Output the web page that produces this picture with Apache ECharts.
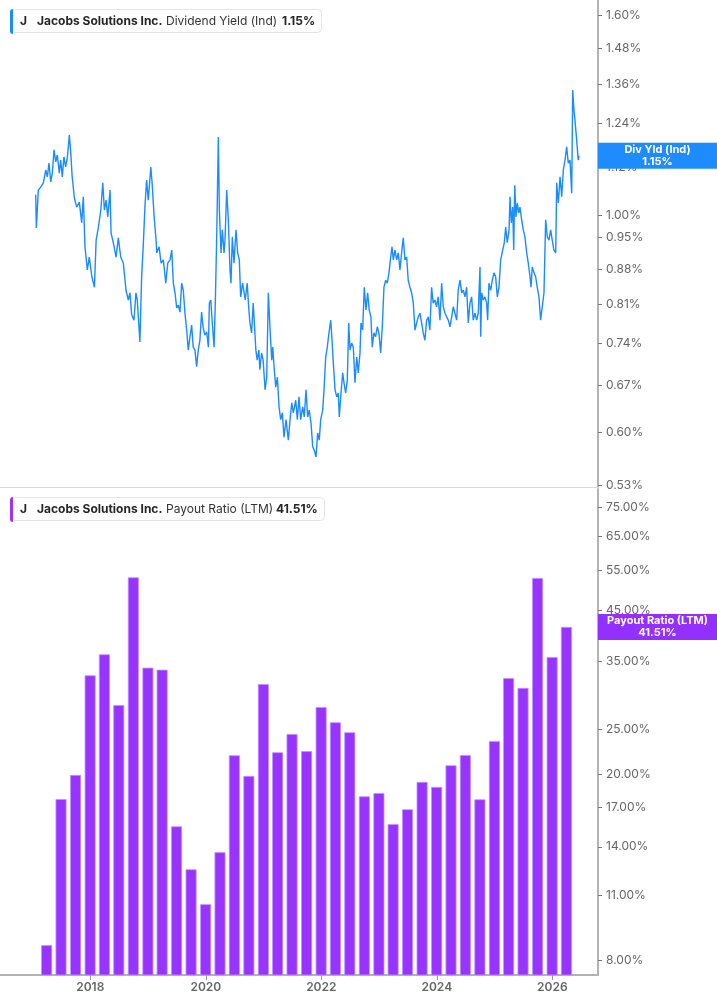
<!DOCTYPE html>
<html><head><meta charset="utf-8">
<script src="https://cdn.jsdelivr.net/npm/echarts/dist/echarts.min.js"></script>
<style>html,body{margin:0;padding:0;background:#fff}#c{width:717px;height:1005px}</style>
</head><body><div id="c"></div>
<script>
// ---- DATA ----
const company = 'Jacobs Solutions Inc.';
const ticker = 'J';
const yieldName = 'Dividend Yield (Ind)';
const yieldShort = 'Div Yld (Ind)';
const payoutName = 'Payout Ratio (LTM)';

// dates as decimal years
const yieldDates = [2017.055,2017.066,2017.100,2017.141,2017.187,2017.229,2017.256,2017.285,2017.315,2017.342,2017.372,2017.401,2017.429,2017.463,2017.487,2017.515,2017.544,2017.573,2017.602,2017.637,2017.662,2017.684,2017.724,2017.765,2017.810,2017.851,2017.879,2017.908,2017.948,2017.982,
2018.027,2018.072,2018.101,2018.140,2018.182,2018.216,2018.244,2018.273,2018.303,2018.342,2018.359,2018.399,2018.446,2018.485,2018.527,2018.572,2018.618,2018.658,2018.687,2018.716,2018.756,2018.790,2018.813,2018.859,2018.889,2018.916,2018.946,2018.975,2019.004,
2019.048,2019.070,2019.105,2019.139,2019.151,2019.191,2019.226,2019.265,2019.307,2019.341,2019.381,2019.410,2019.438,2019.467,2019.496,2019.524,2019.553,2019.582,2019.610,2019.639,2019.669,2019.696,2019.726,2019.755,2019.782,2019.812,2019.841,2019.869,2019.898,2019.927,2019.955,2019.984,
2020.015,2020.045,2020.062,2020.086,2020.109,2020.143,2020.166,2020.190,2020.217,2020.235,2020.264,2020.286,2020.316,2020.333,2020.362,2020.390,2020.419,2020.436,2020.459,2020.488,2020.523,2020.552,2020.580,2020.604,2020.638,2020.661,2020.683,2020.717,2020.742,2020.764,2020.793,2020.821,2020.850,2020.867,2020.890,2020.919,2020.936,2020.966,2020.993,
2021.026,2021.055,2021.083,2021.113,2021.142,2021.159,2021.182,2021.211,2021.239,2021.268,2021.297,2021.325,2021.354,2021.389,2021.429,2021.459,2021.488,2021.516,2021.557,2021.585,2021.614,2021.643,2021.678,2021.705,2021.735,2021.764,2021.791,2021.822,2021.851,2021.879,2021.908,2021.937,2021.965,2021.989,
2022.024,2022.047,2022.076,2022.104,2022.133,2022.163,2022.186,2022.208,2022.238,2022.267,2022.294,2022.312,2022.341,2022.370,2022.393,2022.422,2022.450,2022.475,2022.497,2022.526,2022.554,2022.583,2022.613,2022.640,2022.670,2022.687,2022.716,2022.744,2022.773,2022.802,2022.830,2022.859,2022.882,2022.911,2022.940,2022.969,2022.998,
2023.028,2023.056,2023.085,2023.115,2023.142,2023.172,2023.201,2023.224,2023.247,2023.276,2023.305,2023.333,2023.362,2023.392,2023.419,2023.448,2023.478,2023.505,2023.535,2023.564,2023.593,2023.622,2023.651,2023.679,2023.708,2023.737,2023.765,2023.794,2023.824,2023.851,2023.880,2023.910,2023.937,2023.967,2023.996,
2024.024,2024.055,2024.084,2024.112,2024.142,2024.171,2024.199,2024.228,2024.258,2024.285,2024.314,2024.344,2024.371,2024.402,2024.431,2024.459,2024.488,2024.517,2024.545,2024.574,2024.603,2024.631,2024.660,2024.691,2024.718,2024.748,2024.760,2024.777,2024.804,2024.834,2024.863,2024.880,2024.903,2024.933,2024.961,2024.990,
2025.019,2025.048,2025.077,2025.106,2025.141,2025.168,2025.193,2025.220,2025.251,2025.268,2025.290,2025.314,2025.332,2025.349,2025.371,2025.394,2025.418,2025.440,2025.469,2025.497,2025.526,2025.557,2025.584,2025.614,2025.631,2025.653,2025.683,2025.712,2025.739,2025.769,2025.798,2025.826,2025.856,2025.885,2025.913,2025.942,2025.971,2025.999,
2026.028,2026.059,2026.076,2026.104,2026.134,2026.163,2026.191,2026.220,2026.249,2026.277,2026.306,2026.336,2026.353,2026.375,2026.392,2026.422,2026.449,2026.461];

// dividend yield, %
const yieldValues = [1.049,0.970,1.061,1.068,1.079,1.112,1.094,1.130,1.081,1.104,1.166,1.133,1.152,1.104,1.138,1.094,1.147,1.120,1.144,1.207,1.157,1.099,1.041,1.019,1.031,0.982,1.044,0.928,0.879,0.906,
0.865,0.844,0.943,0.972,1.012,1.079,1.012,1.036,0.996,1.061,0.959,0.937,0.906,0.948,0.906,0.893,0.838,0.819,0.833,0.791,0.781,0.833,0.819,0.742,0.865,0.928,1.019,1.086,1.036,
1.120,1.079,0.996,0.943,0.915,0.928,0.893,0.900,0.852,0.893,0.900,0.921,0.852,0.833,0.804,0.809,0.796,0.852,0.838,0.794,0.763,0.728,0.751,0.772,0.733,0.728,0.700,0.728,0.745,0.796,0.767,0.754,
0.760,0.733,0.813,0.819,0.781,0.733,0.819,0.959,1.202,1.012,0.915,0.966,0.915,0.943,1.061,0.989,0.879,0.852,0.950,0.893,0.966,0.915,0.900,0.825,0.852,0.855,0.819,0.852,0.806,0.776,0.758,0.813,0.758,0.728,0.711,0.728,0.695,0.723,0.711,
0.663,0.683,0.833,0.763,0.711,0.733,0.700,0.667,0.683,0.637,0.618,0.628,0.593,0.618,0.589,0.618,0.643,0.628,0.647,0.618,0.652,0.618,0.637,0.622,0.663,0.622,0.632,0.613,0.580,0.575,0.566,0.599,0.589,0.618,
0.632,0.663,0.716,0.733,0.758,0.781,0.745,0.706,0.663,0.652,0.658,0.622,0.658,0.690,0.674,0.658,0.678,0.776,0.728,0.740,0.733,0.674,0.716,0.690,0.723,0.776,0.763,0.844,0.800,0.833,0.800,0.787,0.733,0.758,0.751,0.769,0.758,
0.723,0.769,0.844,0.858,0.852,0.873,0.906,0.928,0.900,0.921,0.900,0.915,0.879,0.917,0.948,0.900,0.906,0.858,0.844,0.833,0.813,0.763,0.776,0.787,0.794,0.776,0.758,0.745,0.781,0.787,0.763,0.844,0.813,0.819,0.806,
0.825,0.781,0.852,0.806,0.794,0.787,0.781,0.769,0.787,0.806,0.804,0.781,0.838,0.858,0.833,0.838,0.825,0.844,0.776,0.813,0.825,0.781,0.794,0.781,0.794,0.885,0.751,0.833,0.819,0.825,0.813,0.781,0.852,0.838,0.858,0.873,
0.865,0.825,0.844,0.900,0.921,0.937,0.972,0.937,0.966,1.044,0.982,1.019,0.921,1.073,0.996,1.029,1.005,1.019,0.989,0.966,0.950,0.915,0.893,0.865,0.844,0.885,0.873,0.865,0.844,0.825,0.781,0.806,0.833,0.989,0.950,0.943,0.966,0.943,
0.921,0.915,1.079,1.029,1.094,1.044,1.112,1.138,1.174,1.130,1.138,1.053,1.342,1.280,1.251,1.193,1.138,1.150];

// payout ratio (LTM), quarterly, %
const payoutPeriods = ['2017-03-31','2017-06-30','2017-09-30','2017-12-31',
'2018-03-31','2018-06-30','2018-09-30','2018-12-31',
'2019-03-31','2019-06-30','2019-09-30','2019-12-31',
'2020-03-31','2020-06-30','2020-09-30','2020-12-31',
'2021-03-31','2021-06-30','2021-09-30','2021-12-31',
'2022-03-31','2022-06-30','2022-09-30','2022-12-31',
'2023-03-31','2023-06-30','2023-09-30','2023-12-31',
'2024-03-31','2024-06-30','2024-09-30','2024-12-31',
'2025-03-31','2025-06-30','2025-09-30','2025-12-31',
'2026-03-31'];
const payoutValues = [8.61,17.73,19.97,32.68,36.26,28.22,53.06,33.94,33.60,15.49,12.53,10.54,13.63,22.01,19.87,31.31,22.34,24.45,22.46,27.94,25.91,24.66,17.97,18.26,15.67,16.85,19.29,18.82,20.95,22.04,17.70,23.62,32.25,30.70,52.88,35.78,41.51];

const yieldTicks = [0.53,0.60,0.67,0.74,0.81,0.88,0.95,1.00,1.12,1.24,1.36,1.48,1.60];
const payoutTicks = [8,11,14,17,20,25,35,45,55,65,75];
const yearTicks = [2018,2020,2022,2024,2026];

const yieldLast = yieldValues[yieldValues.length - 1];
const payoutLast = payoutValues[payoutValues.length - 1];

// axis ranges
const X_MIN = 2016.4364, X_MAX = 2026.7913;
const Y1_MIN = 0.5275, Y1_MAX = 1.6587;
const Y2_MIN = 7.428, Y2_MAX = 82.1;

// ---- helpers ----
const ln = Math.log;
function toYear(s){
  const p = s.split('-').map(Number);
  const t = Date.UTC(p[0], p[1]-1, p[2]);
  const a = Date.UTC(p[0],0,1), b = Date.UTC(p[0]+1,0,1);
  return p[0] + (t-a)/(b-a);
}
const BLUE = '#1a8cff', PURPLE = '#9933ff';
const FONT = 'Inter';

function legendTitle(top, metric, value, mw, vw){
  return {
    left: 10, top: top,
    text: '{j|' + ticker + '}{c|' + company + '}{m|' + metric + '}{v|' + value + '}',
    padding: [5, 6, 5, 10],
    backgroundColor: '#fff', borderColor: '#e4e4e4', borderWidth: 1, borderRadius: 4,
    textStyle: {
      fontFamily: FONT, fontSize: 12, lineHeight: 14,
      rich: {
        j: {fontFamily: FONT, fontWeight: 700, fontSize: 12, color: '#262626', width: 17},
        c: {fontFamily: FONT, fontWeight: 700, fontSize: 12, color: '#262626', width: 129},
        m: {fontFamily: FONT, fontWeight: 400, fontSize: 12, color: '#333', width: mw},
        v: {fontFamily: FONT, fontWeight: 700, fontSize: 12, color: '#262626', width: vw}
      }
    }
  };
}

function yAxisCfg(grid, mn, mx, ticks, digits){
  const cv = ticks.map(ln);
  return {
    gridIndex: grid, type: 'value', position: 'right',
    min: ln(mn), max: ln(mx),
    axisLine: {show: true, onZero: false, lineStyle: {color: '#b3b3b3', width: 2}},
    axisTick: {show: true, customValues: cv, length: 4, lineStyle: {color: '#777', width: 1}},
    axisLabel: {show: true, customValues: cv, formatter: v => Math.exp(v).toFixed(2) + '%',
      color: '#666', fontSize: 12, fontFamily: FONT, margin: 8},
    splitLine: {show: false}
  };
}

const chart = echarts.init(document.getElementById('c'), null, {renderer: 'canvas'});
const option = {
  animation: false,
  backgroundColor: '#fff',
  textStyle: {fontFamily: FONT},
  title: [
    legendTitle(9, yieldName, yieldLast.toFixed(2) + '%', 116, 34),
    legendTitle(497, payoutName, payoutLast.toFixed(2) + '%', 110, 43)
  ],
  graphic: [
    {type: 'rect', left: 10, top: 9, z: 100, shape: {width: 3, height: 25, r: [3,0,0,3]}, style: {fill: BLUE}},
    {type: 'rect', left: 10, top: 497, z: 100, shape: {width: 3, height: 25, r: [3,0,0,3]}, style: {fill: PURPLE}}
  ],
  grid: [
    {left: 0, right: 119, top: 0, height: 487, outerBoundsMode: 'none'},
    {left: 0, right: 119, top: 489, height: 486, outerBoundsMode: 'none'}
  ],
  xAxis: [
    {gridIndex: 0, type: 'value', min: X_MIN, max: X_MAX,
      axisLine: {show: true, onZero: false, lineStyle: {color: '#dadada', width: 1}},
      axisTick: {show: false}, axisLabel: {show: false}, splitLine: {show: false}},
    {gridIndex: 1, type: 'value', min: X_MIN, max: X_MAX,
      axisLine: {show: true, onZero: false, lineStyle: {color: '#b3b3b3', width: 2}},
      axisTick: {show: true, customValues: yearTicks, length: 5, lineStyle: {color: '#999'}},
      axisLabel: {show: true, customValues: yearTicks, formatter: v => String(Math.round(v)),
        color: '#666', fontWeight: 600, fontSize: 12, fontFamily: FONT, margin: 6},
      splitLine: {show: false}}
  ],
  yAxis: [
    yAxisCfg(0, Y1_MIN, Y1_MAX, yieldTicks),
    yAxisCfg(1, Y2_MIN, Y2_MAX, payoutTicks)
  ],
  series: [
    {
      type: 'line', xAxisIndex: 0, yAxisIndex: 0,
      data: yieldDates.map((d, i) => [d, ln(yieldValues[i])]),
      showSymbol: false, symbol: 'none',
      lineStyle: {color: BLUE, width: 1.4},
      markPoint: {
        silent: true,
        symbol: 'rect', symbolSize: [119, 26], symbolOffset: ['50%', 0],
        itemStyle: {color: '#1e8cff'},
        label: {show: true, position: 'inside', color: '#fff', fontWeight: 700, fontSize: 11,
          lineHeight: 12, fontFamily: FONT,
          formatter: () => yieldShort + '\n' + yieldLast.toFixed(2) + '%'},
        data: [{coord: [X_MAX, ln(yieldLast)]}]
      }
    },
    {
      type: 'bar', xAxisIndex: 1, yAxisIndex: 1,
      data: payoutPeriods.map((p, i) => [toYear(p), ln(payoutValues[i])]),
      barWidth: 11,
      itemStyle: {color: PURPLE, borderColor: '#bf94ff', borderWidth: 0.8},
      markPoint: {
        silent: true,
        symbol: 'rect', symbolSize: [119, 26], symbolOffset: ['50%', 0],
        itemStyle: {color: '#9330ff'},
        label: {show: true, position: 'inside', color: '#fff', fontWeight: 700, fontSize: 11,
          lineHeight: 12, fontFamily: FONT,
          formatter: () => payoutName + '\n' + payoutLast.toFixed(2) + '%'},
        data: [{coord: [X_MAX, ln(payoutLast)]}]
      }
    }
  ]
};
chart.setOption(option);
</script>
</body></html>
